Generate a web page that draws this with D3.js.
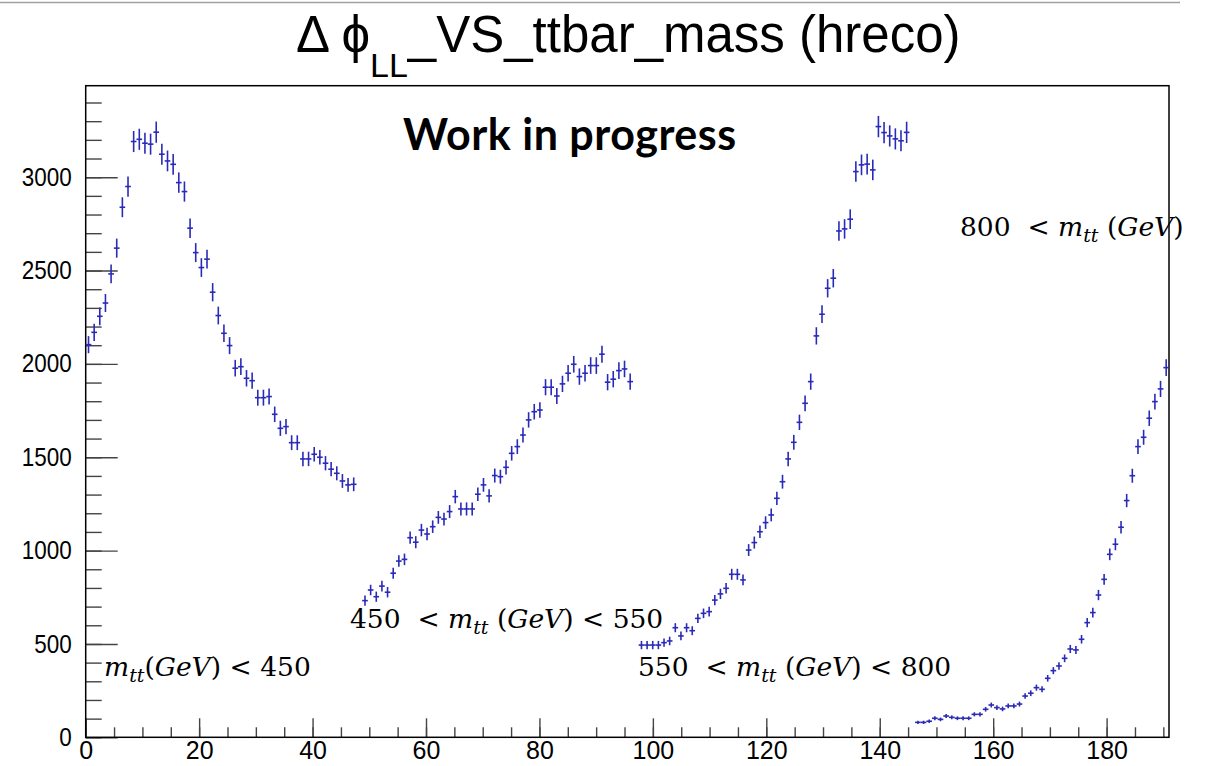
<!DOCTYPE html>
<html>
<head>
<meta charset="utf-8">
<script src="https://d3js.org/d3.v7.min.js"></script>
<style>
  body { margin: 0; background: #fff; }
  svg { display: block; }
  .axis text { font-family: "Liberation Sans", Arial, sans-serif; fill: #000; }
  .axis path { display: none; }
  .axis line { stroke: #444; stroke-width: 1.4px; }
  .math { font-family: "DejaVu Serif", serif; white-space: pre; fill: #000; }
</style>
</head>
<body>
<div id="chart"></div>
<script>
// histogram layout: 192 bins spread over [0, 191]
var nBins = 192;
var xMax = 191;
var yMax = 3490;

// bin contents, one array per m_tt region (first bin index given)
var region1Start = 0;
var region1 = [2103, 2169, 2255, 2326, 2482, 2620, 2839, 2950, 3191, 3203, 3182, 3177,
  3241, 3123, 3087, 3069, 2971, 2923, 2727, 2596, 2516, 2561, 2384, 2259,
  2164, 2098, 1977, 1985, 1923, 1910, 1819, 1819, 1825, 1730, 1655, 1664,
  1578, 1578, 1491, 1491, 1516, 1500, 1468, 1436, 1414, 1373, 1352, 1355];
var region2Start = 49;
var region2 = [732, 789, 753, 810, 777, 879, 944, 953, 1069, 1045, 1110, 1089,
  1128, 1178, 1169, 1209, 1289, 1223, 1223, 1223, 1302, 1352, 1293, 1402,
  1396, 1446, 1521, 1557, 1619, 1700, 1744, 1753, 1875, 1875, 1828, 1893,
  1950, 1998, 1932, 1950, 1991, 1991, 2052, 1902, 1918, 1964, 1973, 1905];
var region3Start = 98;
var region3 = [494, 494, 494, 494, 507, 516, 587, 543, 587, 571, 637, 664,
  673, 735, 768, 798, 873, 873, 843, 1003, 1043, 1101, 1150, 1191,
  1280, 1369, 1491, 1580, 1687, 1789, 1905, 2150, 2266, 2405, 2459, 2712,
  2723, 2775, 3030, 3066, 3070, 3039, 3271, 3239, 3221, 3205, 3195, 3240];
var region4Start = 147;
var region4 = [80, 80, 86, 102, 96, 114, 107, 102, 102, 102, 123, 123,
  150, 173, 159, 152, 168, 168, 178, 221, 236, 266, 257, 316,
  357, 382, 423, 473, 468, 525, 614, 668, 762, 846, 980, 1034,
  1125, 1268, 1401, 1557, 1607, 1709, 1798, 1866, 1980];

var xMajorTicks = [0, 20, 40, 60, 80, 100, 120, 140, 160, 180];
var yMajorTicks = [0, 500, 1000, 1500, 2000, 2500, 3000];

var titleMain = "\u0394 \u03D5";
var titleSub = "LL";
var titleRest = "_VS_ttbar_mass (hreco)";
var stamp = "Work in progress";

var W = 1207, H = 766;
var svg = d3.select("#chart").append("svg").attr("width", W).attr("height", H);

var x = d3.scaleLinear().domain([0, xMax]).range([85.7, 1169]);
var y = d3.scaleLinear().domain([0, yMax]).range([737.3, 85.7]);
var binW = xMax / nBins;

// thin line at the very top of the slide
svg.append("line").attr("x1", 0).attr("x2", 1180).attr("y1", 2.5).attr("y2", 2.5)
  .attr("stroke", "#a0a0a0").attr("stroke-width", 1.5);

// title
var title = svg.append("text")
  .attr("x", 296).attr("y", 52)
  .style("font-family", "'Liberation Sans', Arial, sans-serif")
  .style("font-size", "51px");
title.append("tspan").text(titleMain);
title.append("tspan").attr("dy", 25).style("font-size", "34px").text(titleSub);
title.append("tspan").attr("dy", -25).text(titleRest);

// axes: minor then major ticks
var gx = svg.append("g").attr("class", "axis").attr("transform", "translate(0," + y(0) + ")");
gx.call(d3.axisBottom(x).tickValues(d3.range(0, xMax, 5)).tickSize(-10).tickFormat(""));
gx.append("g").call(d3.axisBottom(x).tickValues(xMajorTicks).tickSize(-19).tickPadding(4))
  .selectAll("text").style("font-size", "25px").attr("dy", "0.72em");
gx.selectAll("path").remove();

var gy = svg.append("g").attr("class", "axis").attr("transform", "translate(" + x(0) + ",0)");
gy.call(d3.axisLeft(y).tickValues(d3.range(0, yMax, 100)).tickSize(-16).tickFormat(""));
gy.append("g").call(d3.axisLeft(y).tickValues(yMajorTicks).tickSize(-32).tickPadding(14)
    .tickFormat(d3.format("d")))
  .selectAll("text").style("font-size", "22.5px").attr("transform", "scale(1,1.12)");
gy.selectAll("path").remove();

// frame
svg.append("rect").attr("x", x(0)).attr("y", y(yMax))
  .attr("width", x(xMax) - x(0)).attr("height", y(0) - y(yMax))
  .attr("fill", "none").attr("stroke", "#000").attr("stroke-width", 1.5);

// histogram points with error bars
function toBins(start, vals) {
  return vals.map(function (v, i) { return { bin: start + i, v: v }; });
}
var bins = [].concat(
  toBins(region1Start, region1), toBins(region2Start, region2),
  toBins(region3Start, region3), toBins(region4Start, region4));

var pts = svg.append("g").attr("stroke", "#2a2ab8").attr("stroke-width", 1.6);
pts.selectAll("line.h").data(bins).enter().append("line").attr("class", "h")
  .attr("x1", function (d) { return x(d.bin * binW); })
  .attr("x2", function (d) { return x((d.bin + 1) * binW); })
  .attr("y1", function (d) { return y(d.v); })
  .attr("y2", function (d) { return y(d.v); });
pts.selectAll("line.v").data(bins).enter().append("line").attr("class", "v")
  .attr("x1", function (d) { return x((d.bin + 0.5) * binW); })
  .attr("x2", function (d) { return x((d.bin + 0.5) * binW); })
  .attr("y1", function (d) { return y(d.v - Math.sqrt(d.v)); })
  .attr("y2", function (d) { return y(d.v + Math.sqrt(d.v)); });

// stamp
svg.append("text").attr("x", 403).attr("y", 150)
  .style("font-family", "Lato, 'Open Sans', sans-serif").style("font-weight", 700)
  .style("font-size", "43px").style("letter-spacing", "0.5px").text(stamp);

// m_tt region labels
function mathLabel(px, py, pre, gap, post) {
  var t = svg.append("text").attr("class", "math").attr("x", px).attr("y", py)
    .style("font-size", "26.5px");
  t.append("tspan").text(pre);
  t.append("tspan").style("font-style", "italic").text("m");
  t.append("tspan").style("font-style", "italic").style("font-size", "19px").attr("dy", 6).text("tt");
  t.append("tspan").attr("dy", -6).text(gap + "(");
  t.append("tspan").style("font-style", "italic").text("GeV");
  t.append("tspan").text(")" + post);
}
mathLabel(960, 236, "800  < ", " ", "");
mathLabel(350, 628, "450  < ", " ", " < 550");
mathLabel(104, 676, "", "", " < 450");
mathLabel(638, 676, "550  < ", " ", " < 800");
</script>
</body>
</html>
